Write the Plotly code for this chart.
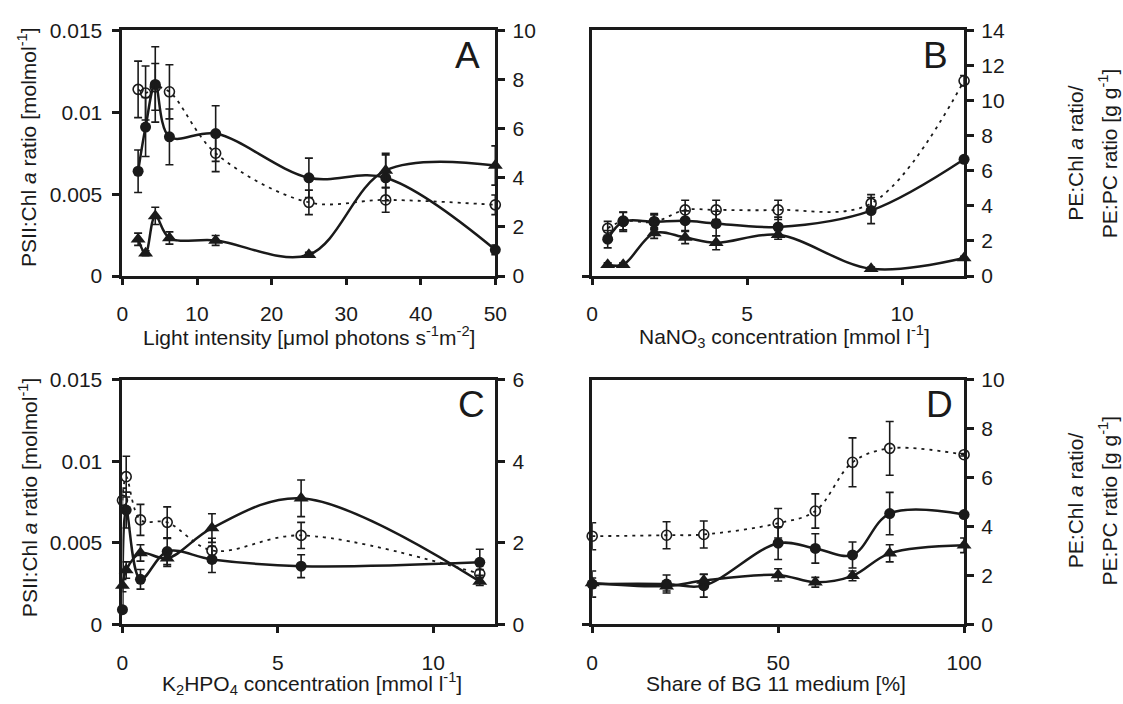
import plotly.graph_objects as go

# ---------------- data ----------------
# Panel A: light intensity
a_x = [2.1, 3.1, 4.4, 6.3, 12.5, 25, 35.3, 50]
a_psii = [0.0064, 0.0091, 0.0117, 0.0085, 0.0087, 0.0060, 0.0060, 0.0016]
a_psii_err = [0.0013, 0.0018, 0.0023, 0.0017, 0.0017, 0.0012, 0.0014, 0.0003]
a_pechl = [7.6, 7.45, 7.7, 7.5, 5.0, 3.0, 3.1, 2.9]
a_pechl_err = [1.15, 1.1, 0.95, 1.1, 0.75, 0.5, 0.5, 0.4]
a_pepc = [1.5, 0.93, 2.45, 1.55, 1.45, 0.87, 4.3, 4.5]
a_pepc_err = [0.25, 0.1, 0.35, 0.25, 0.2, 0.1, 0.7, 0.8]

# Panel B: NaNO3
b_x = [0.5, 1, 2, 3, 4, 6, 9, 12]
b_psii = [0.00225, 0.00332, 0.00332, 0.00338, 0.00321, 0.00300, 0.00400, 0.00713]
b_psii_err = [0.00053, 0.00059, 0.0005, 0.0006, 0.00075, 0.0006, 0.0008, 0.0001]
b_pechl = [2.72, 3.13, 3.09, 3.77, 3.77, 3.77, 4.14, 11.13]
b_pechl_err = [0.4, 0.5, 0.4, 0.55, 0.55, 0.55, 0.5, 0.3]
b_pepc = [0.65, 0.65, 2.45, 2.2, 1.9, 2.35, 0.42, 1.03]
b_pepc_err = [0.1, 0.1, 0.3, 0.35, 0.4, 0.25, 0.1, 0.1]

# Panel C: K2HPO4
c_x = [0, 0.12, 0.58, 1.44, 2.88, 5.75, 11.5]
c_psii = [0.0009, 0.0070, 0.00276, 0.00446, 0.00398, 0.00356, 0.0038]
c_psii_err = [0.0001, 0.0011, 0.0006, 0.0008, 0.0008, 0.0007, 0.0008]
c_pechl = [3.04, 3.62, 2.56, 2.5, 1.81, 2.18, 1.24]
c_pechl_err = [0.3, 0.5, 0.38, 0.38, 0.3, 0.32, 0.1]
c_pepc = [0.95, 1.33, 1.75, 1.62, 2.36, 3.09, 1.05]
c_pepc_err = [0.15, 0.2, 0.2, 0.2, 0.35, 0.45, 0.1]

# Panel D: share of BG 11 medium
d_x = [0, 20, 30, 50, 60, 70, 80, 100]
d_psii = [0.00247, 0.00247, 0.00237, 0.00497, 0.00465, 0.00425, 0.00679, 0.00673]
d_psii_err = [0.0008, 0.00055, 0.0007, 0.001, 0.0009, 0.0008, 0.0013, 0.0001]
d_pechl = [3.6, 3.64, 3.67, 4.13, 4.63, 6.62, 7.19, 6.93]
d_pechl_err = [0.55, 0.55, 0.55, 0.6, 0.7, 1.0, 1.1, 0.05]
d_pepc = [1.69, 1.56, 1.79, 2.02, 1.72, 1.98, 2.9, 3.23]
d_pepc_err = [0.2, 0.2, 0.25, 0.25, 0.2, 0.2, 0.35, 0.3]

left_ticks = [0, 0.005, 0.01, 0.015]
left_ticktext = ["0", "0.005", "0.01", "0.015"]

panels = [
    dict(x=a_x, psii=a_psii, psii_e=a_psii_err, pechl=a_pechl, pechl_e=a_pechl_err,
         pepc=a_pepc, pepc_e=a_pepc_err, xrange=[0, 50], xticks=[0, 10, 20, 30, 40, 50],
         rrange=[0, 10], rticks=[0, 2, 4, 6, 8, 10], leftlabels=True,
         xtitle="Light intensity [μmol photons s<sup>-1</sup>m<sup>-2</sup>]", letter="A"),
    dict(x=b_x, psii=b_psii, psii_e=b_psii_err, pechl=b_pechl, pechl_e=b_pechl_err,
         pepc=b_pepc, pepc_e=b_pepc_err, xrange=[0, 12], xticks=[0, 5, 10],
         rrange=[0, 14], rticks=[0, 2, 4, 6, 8, 10, 12, 14], leftlabels=False,
         xtitle="NaNO<sub>3</sub> concentration [mmol l<sup>-1</sup>]", letter="B"),
    dict(x=c_x, psii=c_psii, psii_e=c_psii_err, pechl=c_pechl, pechl_e=c_pechl_err,
         pepc=c_pepc, pepc_e=c_pepc_err, xrange=[0, 12], xticks=[0, 5, 10],
         rrange=[0, 6], rticks=[0, 2, 4, 6], leftlabels=True,
         xtitle="K<sub>2</sub>HPO<sub>4</sub> concentration [mmol l<sup>-1</sup>]", letter="C"),
    dict(x=d_x, psii=d_psii, psii_e=d_psii_err, pechl=d_pechl, pechl_e=d_pechl_err,
         pepc=d_pepc, pepc_e=d_pepc_err, xrange=[0, 100], xticks=[0, 50, 100],
         rrange=[0, 10], rticks=[0, 2, 4, 6, 8, 10], leftlabels=False,
         xtitle="Share of BG 11 medium [%]", letter="D"),
]

W, H = 1123, 704
def px(x):
    return x / W
def py(y):
    return 1 - y / H

xdoms = [[px(119), px(500)], [px(599), px(979)], [px(119), px(500)], [px(599), px(979)]]
ydoms = [[py(273), py(19)], [py(273), py(19)], [py(633), py(380)], [py(633), py(380)]]

FONT = "Liberation Sans, Arial, sans-serif"
BLACK = "#1a1a1a"
TICKSIZE = 21
TITLESIZE = 21
fig = go.Figure()
layout = dict(width=W, height=H, margin=dict(l=0, r=0, t=0, b=0),
              paper_bgcolor="white", plot_bgcolor="white", showlegend=False,
              font=dict(family=FONT, size=TICKSIZE, color=BLACK))
annotations = []

for i, p in enumerate(panels):
    xn = i + 1
    xa = "x" if xn == 1 else f"x{xn}"
    yl = 3 * i + 1
    yr = 3 * i + 2
    yi = 3 * i + 3
    yl_name = "y" if yl == 1 else f"y{yl}"
    yr_name = f"y{yr}"

    # open circles, dotted (PE:Chl a, right axis)
    fig.add_trace(go.Scatter(
        x=p["x"], y=p["pechl"], xaxis=xa, yaxis=yr_name, mode="lines+markers",
        line=dict(color=BLACK, width=1.8, dash="3px,5px", shape="spline", smoothing=1.0),
        marker=dict(symbol="circle-open", size=10, color=BLACK, line=dict(width=1.6, color=BLACK)),
        error_y=dict(type="data", array=p["pechl_e"], color=BLACK, thickness=1.6, width=4),
        cliponaxis=False))
    # filled circles, solid (PSII:Chl a, left axis)
    fig.add_trace(go.Scatter(
        x=p["x"], y=p["psii"], xaxis=xa, yaxis=yl_name, mode="lines+markers",
        line=dict(color=BLACK, width=2.5, shape="spline", smoothing=1.0),
        marker=dict(symbol="circle", size=11, color=BLACK),
        error_y=dict(type="data", array=p["psii_e"], color=BLACK, thickness=1.6, width=4),
        cliponaxis=False))
    # triangles, solid (PE:PC, right axis)
    fig.add_trace(go.Scatter(
        x=p["x"], y=p["pepc"], xaxis=xa, yaxis=yr_name, mode="lines+markers",
        line=dict(color=BLACK, width=2.5, shape="spline", smoothing=1.0),
        marker=dict(symbol="triangle-up", size=13, color=BLACK),
        error_y=dict(type="data", array=p["pepc_e"], color=BLACK, thickness=1.6, width=4),
        cliponaxis=False))

    xkey = "xaxis" if xn == 1 else f"xaxis{xn}"
    layout[xkey] = dict(domain=xdoms[i], anchor=yl_name, range=p["xrange"],
                        tickvals=p["xticks"], ticks="outside", ticklen=6, tickwidth=2.5,
                        tickcolor=BLACK, showline=True, linewidth=3, linecolor=BLACK,
                        mirror=True, showgrid=False, zeroline=False,
                        ticklabelstandoff=11, tickfont=dict(size=TICKSIZE))
    ylkey = "yaxis" if yl == 1 else f"yaxis{yl}"
    if p["leftlabels"]:
        layout[ylkey] = dict(domain=ydoms[i], anchor=xa, range=[0, 0.015],
                             tickvals=left_ticks, ticktext=left_ticktext, ticks="outside",
                             ticklen=7, tickwidth=2.5, tickcolor=BLACK, showline=True,
                             linewidth=3, linecolor=BLACK, showgrid=False, zeroline=False,
                             ticklabelstandoff=6, tickfont=dict(size=TICKSIZE))
    else:
        layout[ylkey] = dict(domain=ydoms[i], anchor=xa, range=[0, 0.015],
                             tickvals=[0], ticks="outside", showticklabels=False,
                             ticklen=7, tickwidth=2.5, tickcolor=BLACK, showline=True,
                             linewidth=3, linecolor=BLACK, showgrid=False, zeroline=False)
    layout[f"yaxis{yr}"] = dict(domain=ydoms[i], anchor=xa, overlaying=yl_name, side="right",
                                range=p["rrange"], tickvals=p["rticks"], ticks="outside",
                                ticklen=7, tickwidth=2.5, tickcolor=BLACK, showline=True,
                                linewidth=3, linecolor=BLACK, showgrid=False, zeroline=False,
                                ticklabelstandoff=3, tickfont=dict(size=TICKSIZE))
    layout[f"yaxis{yi}"] = dict(domain=ydoms[i], anchor=xa, overlaying=yl_name, side="right",
                                range=p["rrange"], tickvals=p["rticks"], ticks="inside",
                                ticklen=7, tickwidth=2.5, tickcolor=BLACK, showline=False,
                                showticklabels=False, showgrid=False, zeroline=False)

# axis titles and panel letters
def ann(text, x, y, xanchor="center", yanchor="middle", size=TITLESIZE, angle=0):
    annotations.append(dict(text=text, x=px(x), y=py(y), xref="paper", yref="paper",
                            xanchor=xanchor, yanchor=yanchor, showarrow=False,
                            textangle=angle, font=dict(size=size, family=FONT, color=BLACK)))

xt_pos = [(310, 335), (795, 335), (313, 694), (787, 694)]
for p, (x, y) in zip(panels, xt_pos):
    ann(p["xtitle"], x, y)

letters_pos = [(486, 45), (965, 45), (492, 406), (970, 406)]
for p, (x, y) in zip(panels, letters_pos):
    ann(p["letter"], x, y, xanchor="right", size=37)

left_title = "PSII:Chl <i>a</i> ratio [molmol<sup>-1</sup>]"
ann(left_title, 22, 140, angle=-90)
ann(left_title, 22, 502, angle=-90)

right_l1 = "PE:Chl <i>a</i> ratio/"
right_l2 = "PE:PC ratio [g g<sup>-1</sup>]"
for yc in (146, 505):
    ann(right_l1, 1093, yc, angle=-90)
    ann(right_l2, 1126, yc, angle=-90)

layout["annotations"] = annotations
fig.update_layout(**layout)
fig.write_html("out.html")
